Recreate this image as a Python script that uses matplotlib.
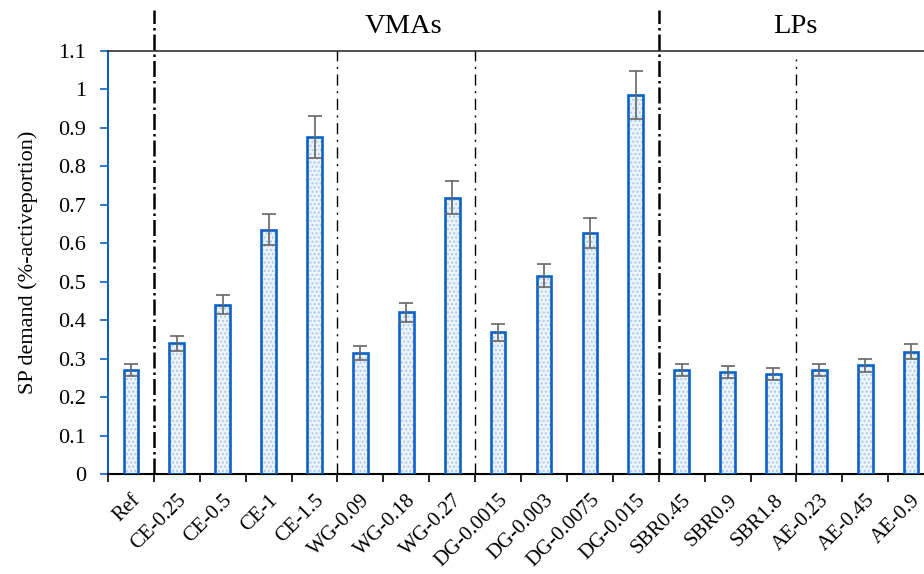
import matplotlib.pyplot as plt
import numpy as np

plt.rcParams['font.family'] = ['Liberation Serif', 'DejaVu Serif']

categories = ["Ref", "CE-0.25", "CE-0.5", "CE-1", "CE-1.5", "WG-0.09", "WG-0.18",
              "WG-0.27", "DG-0.0015", "DG-0.003", "DG-0.0075", "DG-0.015",
              "SBR0.45", "SBR0.9", "SBR1.8", "AE-0.23", "AE-0.45", "AE-0.9"]
sp_demand = [0.27, 0.34, 0.44, 0.635, 0.877, 0.315, 0.42, 0.718, 0.368, 0.515,
             0.627, 0.985, 0.27, 0.265, 0.26, 0.27, 0.283, 0.318]
sp_error = [0.015, 0.02, 0.025, 0.04, 0.055, 0.018, 0.025, 0.043, 0.022, 0.03,
            0.038, 0.062, 0.015, 0.015, 0.015, 0.015, 0.017, 0.019]

blue = "#0d62c6"
x = np.arange(len(categories))

fig = plt.figure(figsize=(9.24, 5.74), dpi=100)
ax = fig.add_axes([108 / 924, 100 / 574, 1 - 108 / 924, 423 / 574])

# relleno punteado claro y luego el borde azul
ax.bar(x, sp_demand, width=0.32, color="#eef4fc", edgecolor="#a9c8ee",
       hatch="....", linewidth=0, zorder=2)
ax.bar(x, sp_demand, width=0.32, fill=False, edgecolor=blue, linewidth=1.9, zorder=3)
ax.errorbar(x, sp_demand, yerr=sp_error, fmt="none", ecolor="#666666",
            elinewidth=1.2, capsize=5, capthick=1.2, zorder=4)

# separadores de grupos
for xs in [0.5, 11.5]:
    ax.plot([xs, xs], [0, 1.207], color="black", linestyle="-.", linewidth=1.8,
            clip_on=False, zorder=5)
for xs in [4.5, 7.5]:
    ax.plot([xs, xs], [0, 1.1], color="black", linestyle=(0, (8, 4, 1.5, 4)),
            linewidth=1, zorder=5)
ax.plot([14.5, 14.5], [0, 1.08], color="black", linestyle=(0, (8, 4, 1.5, 4)),
        linewidth=1, zorder=5)

ax.text(5.93, 1.165, "VMAs", ha="center", va="center", fontsize=20.5)
ax.text(14.47, 1.165, "LPs", ha="center", va="center", fontsize=20.5)

ax.set_xlim(-0.5, 17.28)
ax.set_ylim(0, 1.1)
ax.set_yticks(np.arange(0, 1.11, 0.1))
ax.set_yticklabels(["0", "0.1", "0.2", "0.3", "0.4", "0.5", "0.6", "0.7", "0.8",
                    "0.9", "1", "1.1"], fontsize=16)
ax.set_ylabel("SP demand (%-activeportion)", fontsize=16, labelpad=14)

ax.set_xticks(x)
ax.set_xticklabels(categories, rotation=45, ha="right", rotation_mode="anchor",
                   fontsize=15)
ax.set_xticks(np.arange(-0.5, 17.5, 1), minor=True)
ax.tick_params(axis="x", which="major", length=0, pad=12)
ax.tick_params(axis="x", which="minor", length=6, width=1.2, color="black")
ax.tick_params(axis="y", length=6, width=1.2, color=blue, pad=10)

ax.spines["right"].set_visible(False)
ax.spines["left"].set_color(blue)
ax.spines["left"].set_linewidth(1.5)
ax.spines["bottom"].set_linewidth(1.5)
ax.spines["top"].set_linewidth(1.2)
ax.spines["top"].set_color("#333333")

fig.savefig("out.png", dpi=100)
